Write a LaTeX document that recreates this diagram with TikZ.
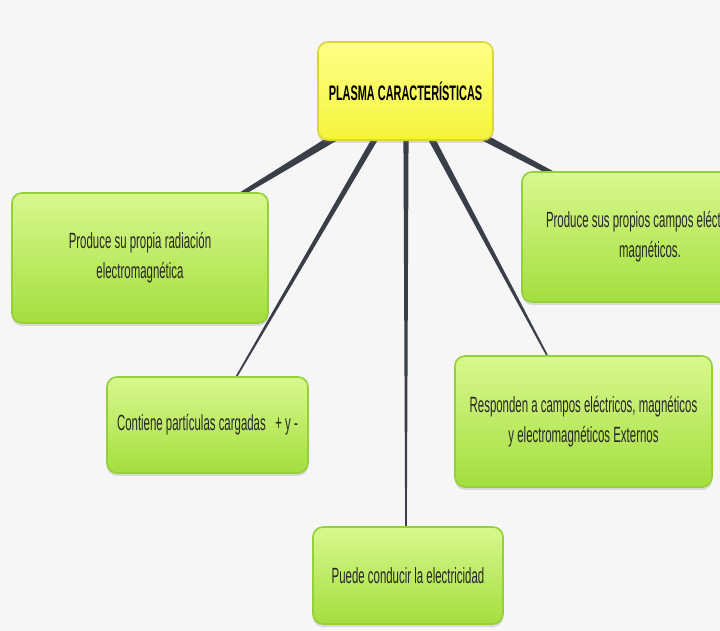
\documentclass[tikz,border=0pt]{standalone}
\usepackage{fontspec}
\setmainfont{Liberation Sans}[FakeStretch=0.52]
\usepackage{tikz}
\usetikzlibrary{calc, shadows}
\definecolor{linkgray}{RGB}{58, 62, 72}
\definecolor{mapyellow}{RGB}{244, 244, 60}
\definecolor{mapyellowtop}{RGB}{255, 255, 135}
\definecolor{yellowedge}{RGB}{220, 212, 60}
\definecolor{mapgreen}{RGB}{164, 222, 62}
\definecolor{mapgreentop}{RGB}{216, 248, 142}
\definecolor{greenedge}{RGB}{148, 208, 58}
\definecolor{paper}{RGB}{246, 246, 246}
\pgfdeclarelayer{links}
\pgfsetlayers{links,main}
% tapered branch: from, to, half width at start, half width at end
\newcommand{\branch}[4]{%
  \fill[linkgray] ($(#1)!#3!90:(#2)$) -- ($(#2)!#4!-90:(#1)$)
    -- ($(#2)!#4!90:(#1)$) -- ($(#1)!#3!-90:(#2)$) -- cycle;}

\begin{document}
\begin{tikzpicture}[x=0.5pt, y=-0.5pt,
  topic/.style={draw=yellowedge, line width=0.8pt, rounded corners=5pt,
    top color=mapyellowtop, bottom color=mapyellow,
    minimum width=87.5pt, minimum height=49pt,
    font=\fontsize{10.5}{12}\selectfont\bfseries, text=black,
    drop shadow={shadow xshift=0pt, shadow yshift=-1.5pt, opacity=0.25}},
  idea/.style={draw=greenedge, line width=0.8pt, rounded corners=5pt,
    top color=mapgreentop, bottom color=mapgreen, align=center,
    font=\fontsize{11}{15}\selectfont, text=black!85,
    drop shadow={shadow xshift=0pt, shadow yshift=-1.5pt, opacity=0.25}}]

  \useasboundingbox (0,0) rectangle (720,631);
  \clip (0,0) rectangle (720,631);

  % Central topic
  \node[topic] (title) at (405.5, 91) {PLASMA CARACTERÍSTICAS};

  % Ideas around it
  \node[idea, minimum width=128pt, minimum height=65pt] (rad) at (140, 258)
    {Produce su propia radiación\\electromagnética};
  \node[idea, minimum width=128pt, minimum height=65pt] (fields) at (650, 237)
    {Produce sus propios campos eléctricos y\\magnéticos.};
  \node[idea, minimum width=100.5pt, minimum height=48pt] (charged) at (207.5, 425)
    {Contiene partículas cargadas\ \ \ + y -};
  \node[idea, minimum width=128.5pt, minimum height=65.5pt] (respond) at (583.5, 421.5)
    {Responden a campos eléctricos, magnéticos\\y electromagnéticos Externos};
  \node[idea, minimum width=95pt, minimum height=48.5pt] (conduct) at (408, 575.5)
    {Puede conducir la electricidad};

  % Branches, behind the boxes
  \begin{pgfonlayer}{links}
    \fill[paper] (0,0) rectangle (720,631);
    \coordinate (sA) at ($(title.south west)+(25,-8)$);
    \coordinate (sC) at ($(title.south west)+(62.5,-10)$);
    \coordinate (sE) at ($(title.south)+(0.5,-10)$);
    \coordinate (sD) at ($(title.south west)+(110,-10)$);
    \coordinate (sB) at ($(title.south west)+(154,-10)$);
    \coordinate (eA) at ($(rad.north east)+(-36,7)$);
    \coordinate (eC) at ($(charged.north west)+(127,6)$);
    \coordinate (eE) at ($(conduct.north)+(-2,6)$);
    \coordinate (eD) at ($(respond.north west)+(96,6)$);
    \coordinate (eB) at ($(fields.north west)+(38,6)$);
    \branch{sA}{eA}{2pt}{1pt}
    \branch{sC}{eC}{1.5pt}{0.4pt}
    \branch{sE}{eE}{1.3pt}{0.4pt}
    \branch{sD}{eD}{1.7pt}{0.4pt}
    \branch{sB}{eB}{1.8pt}{1.2pt}
  \end{pgfonlayer}
\end{tikzpicture}
\end{document}
